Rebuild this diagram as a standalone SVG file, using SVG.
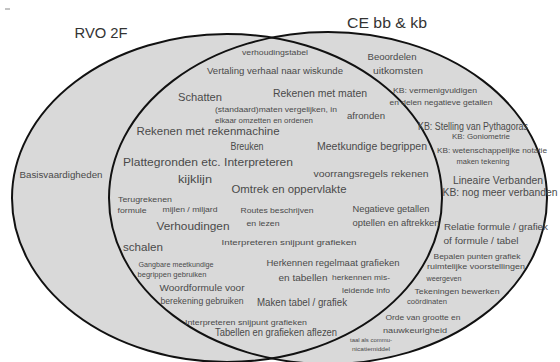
<svg xmlns="http://www.w3.org/2000/svg" width="560" height="362" viewBox="0 0 560 362">
<style>
.e{fill:#d9d9d9;stroke:none}
.s{fill:none;stroke:#111;stroke-width:2}
text{font-family:"Liberation Sans",Arial,sans-serif;text-anchor:middle;fill:#4a4a4a}
.h{fill:#333;font-size:15px}
</style>
<rect width="560" height="362" fill="#fff"/>
<line x1="5" y1="9" x2="10" y2="9" stroke="#888" stroke-width="1"/>
<g id="sets">
<ellipse class="e" cx="227" cy="198" rx="215" ry="164"/>
<ellipse class="e" cx="328" cy="198" rx="219" ry="166"/>
<ellipse class="s" cx="227" cy="198" rx="215" ry="164"/>
<ellipse class="s" cx="328" cy="198" rx="219" ry="166"/>
</g>
<g id="titles">
<text class="h" x="101" y="38" textLength="53" lengthAdjust="spacingAndGlyphs">RVO 2F</text>
<text class="h" x="387" y="28" textLength="80" lengthAdjust="spacingAndGlyphs">CE bb &amp; kb</text>
</g>
<g id="labels">
<text x="275" y="55" font-size="8" textLength="66" lengthAdjust="spacingAndGlyphs">verhoudingstabel</text>
<text x="275" y="74" font-size="8.5" textLength="136" lengthAdjust="spacingAndGlyphs">Vertaling verhaal naar wiskunde</text>
<text x="200" y="101" font-size="11" textLength="44" lengthAdjust="spacingAndGlyphs">Schatten</text>
<text x="320" y="97" font-size="11" textLength="94" lengthAdjust="spacingAndGlyphs">Rekenen met maten</text>
<text x="276" y="112" font-size="8" textLength="122" lengthAdjust="spacingAndGlyphs">(standaard)maten vergelijken, in</text>
<text x="264" y="123" font-size="7" textLength="98" lengthAdjust="spacingAndGlyphs">elkaar omzetten en ordenen</text>
<text x="366" y="119" font-size="9" textLength="38" lengthAdjust="spacingAndGlyphs">afronden</text>
<text x="392" y="60" font-size="9.5" textLength="49" lengthAdjust="spacingAndGlyphs">Beoordelen</text>
<text x="398" y="74" font-size="9" textLength="50" lengthAdjust="spacingAndGlyphs">uitkomsten</text>
<text x="435" y="93" font-size="7.5" textLength="84" lengthAdjust="spacingAndGlyphs">KB: vermenigvuldigen</text>
<text x="441" y="105" font-size="7" textLength="103" lengthAdjust="spacingAndGlyphs">en delen negatieve getallen</text>
<text x="473" y="130" font-size="10" textLength="110" lengthAdjust="spacingAndGlyphs">KB: Stelling van Pythagoras</text>
<text x="481" y="139" font-size="8" textLength="58" lengthAdjust="spacingAndGlyphs">KB: Goniometrie</text>
<text x="372" y="150" font-size="10.5" textLength="110" lengthAdjust="spacingAndGlyphs">Meetkundige begrippen</text>
<text x="492" y="153" font-size="6.5" textLength="110" lengthAdjust="spacingAndGlyphs">KB: wetenschappelijke notatie</text>
<text x="483" y="164" font-size="6.5" textLength="53" lengthAdjust="spacingAndGlyphs">maken tekening</text>
<text x="371" y="177" font-size="9.5" textLength="115" lengthAdjust="spacingAndGlyphs">voorrangsregels rekenen</text>
<text x="498" y="184" font-size="10" textLength="90" lengthAdjust="spacingAndGlyphs">Lineaire Verbanden</text>
<text x="500" y="196" font-size="10" textLength="115" lengthAdjust="spacingAndGlyphs">KB: nog meer verbanden</text>
<text x="208" y="135" font-size="11" textLength="143" lengthAdjust="spacingAndGlyphs">Rekenen met rekenmachine</text>
<text x="247" y="150" font-size="10" textLength="33" lengthAdjust="spacingAndGlyphs">Breuken</text>
<text x="208" y="166" font-size="11" textLength="170" lengthAdjust="spacingAndGlyphs">Plattegronden etc. Interpreteren</text>
<text x="195" y="183" font-size="10.5" textLength="34" lengthAdjust="spacingAndGlyphs">kijklijn</text>
<text x="289" y="193" font-size="11" textLength="115" lengthAdjust="spacingAndGlyphs">Omtrek en oppervlakte</text>
<text x="61" y="178" font-size="8.5" textLength="83" lengthAdjust="spacingAndGlyphs">Basisvaardigheden</text>
<text x="145" y="202" font-size="7" textLength="54" lengthAdjust="spacingAndGlyphs">Terugrekenen</text>
<text x="132" y="213" font-size="7.5" textLength="29" lengthAdjust="spacingAndGlyphs">formule</text>
<text x="190" y="212" font-size="6.5" textLength="55" lengthAdjust="spacingAndGlyphs">mijlen / miljard</text>
<text x="277" y="213" font-size="7" textLength="73" lengthAdjust="spacingAndGlyphs">Routes beschrijven</text>
<text x="263" y="226" font-size="7" textLength="33" lengthAdjust="spacingAndGlyphs">en lezen</text>
<text x="391" y="212" font-size="9.5" textLength="77" lengthAdjust="spacingAndGlyphs">Negatieve getallen</text>
<text x="396" y="226" font-size="9.5" textLength="87" lengthAdjust="spacingAndGlyphs">optellen en aftrekken</text>
<text x="193" y="230" font-size="11" textLength="73" lengthAdjust="spacingAndGlyphs">Verhoudingen</text>
<text x="496" y="230" font-size="9.5" textLength="104" lengthAdjust="spacingAndGlyphs">Relatie formule / grafiek</text>
<text x="481" y="244" font-size="9" textLength="75" lengthAdjust="spacingAndGlyphs">of formule / tabel</text>
<text x="289" y="245" font-size="8" textLength="135" lengthAdjust="spacingAndGlyphs">Interpreteren snijpunt grafieken</text>
<text x="143" y="251" font-size="11" textLength="40" lengthAdjust="spacingAndGlyphs">schalen</text>
<text x="176" y="267" font-size="6.5" textLength="75" lengthAdjust="spacingAndGlyphs">Gangbare meetkundige</text>
<text x="172" y="277" font-size="6.5" textLength="69" lengthAdjust="spacingAndGlyphs">begrippen gebruiken</text>
<text x="333" y="266" font-size="9.5" textLength="133" lengthAdjust="spacingAndGlyphs">Herkennen regelmaat grafieken</text>
<text x="303" y="281" font-size="9.5" textLength="49" lengthAdjust="spacingAndGlyphs">en tabellen</text>
<text x="361" y="280" font-size="7" textLength="58" lengthAdjust="spacingAndGlyphs">herkennen mis-</text>
<text x="366" y="293" font-size="7" textLength="48" lengthAdjust="spacingAndGlyphs">leidende info</text>
<text x="477" y="259" font-size="8" textLength="87" lengthAdjust="spacingAndGlyphs">Bepalen punten grafiek</text>
<text x="476" y="269" font-size="8" textLength="98" lengthAdjust="spacingAndGlyphs">ruimtelijke voorstellingen</text>
<text x="444" y="281" font-size="8" textLength="35" lengthAdjust="spacingAndGlyphs">weergeven</text>
<text x="202" y="291" font-size="9.5" textLength="85" lengthAdjust="spacingAndGlyphs">Woordformule voor</text>
<text x="202" y="304" font-size="8.5" textLength="83" lengthAdjust="spacingAndGlyphs">berekening gebruiken</text>
<text x="302" y="306" font-size="10" textLength="90" lengthAdjust="spacingAndGlyphs">Maken tabel / grafiek</text>
<text x="457" y="294" font-size="8" textLength="85" lengthAdjust="spacingAndGlyphs">Tekeningen bewerken</text>
<text x="427" y="304" font-size="6.5" textLength="40" lengthAdjust="spacingAndGlyphs">coördinaten</text>
<text x="246" y="325" font-size="7.5" textLength="122" lengthAdjust="spacingAndGlyphs">Interpreteren snijpunt grafieken</text>
<text x="276" y="336" font-size="10" textLength="122" lengthAdjust="spacingAndGlyphs">Tabellen en grafieken aflezen</text>
<text x="423" y="320" font-size="8" textLength="75" lengthAdjust="spacingAndGlyphs">Orde van grootte en</text>
<text x="415" y="333" font-size="8" textLength="64" lengthAdjust="spacingAndGlyphs">nauwkeurigheid</text>
<text x="371" y="342" font-size="6" textLength="42" lengthAdjust="spacingAndGlyphs">taal als commu-</text>
<text x="371" y="351" font-size="6" textLength="38" lengthAdjust="spacingAndGlyphs">nicatiemiddel</text>
</g>
</svg>
